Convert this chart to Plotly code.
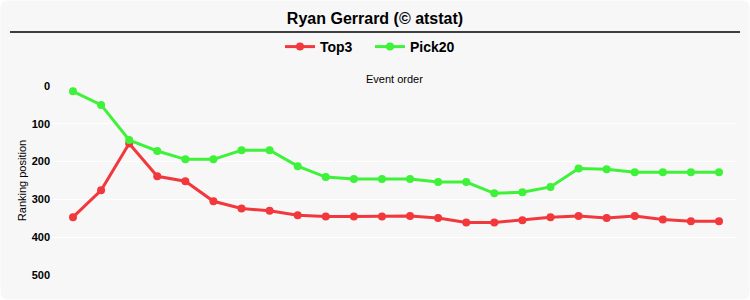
import plotly.graph_objects as go

events = list(range(1, 25))
top3 = [347, 276, 152, 239, 252, 305, 324, 330, 342, 345, 345, 345,
        344, 349, 361, 361, 355, 347, 344, 349, 344, 353, 358, 358]
pick20 = [14, 50, 143, 172, 194, 194, 170, 170, 212, 241, 246, 246,
          246, 254, 254, 284, 281, 267, 218, 220, 228, 228, 228, 228]
y_ticks = [0, 100, 200, 300, 400, 500]

RED = "#f2383c"
GREEN = "#3ef23a"
BG = "#f7f7f7"
FONT = "Liberation Sans, Arial, sans-serif"

W, H = 750, 300
L, R, T, B = 53, 14, 86, 25
PW, PH = W - L - R, H - T - B


def px_x(px):
    return px - L


def px_y(py):
    return (H - B) - py


def rounded_rect(x0, y0, x1, y1, r):
    a, b, c, d = px_x(x0), px_y(y0), px_x(x1), px_y(y1)
    return (f"M {a+r},{b} L {c-r},{b} Q {c},{b} {c},{b-r} "
            f"L {c},{d+r} Q {c},{d} {c-r},{d} L {a+r},{d} "
            f"Q {a},{d} {a},{d+r} L {a},{b-r} Q {a},{b} {a+r},{b} Z")


fig = go.Figure()
fig.add_trace(go.Scatter(x=events, y=top3, name="Top3", mode="lines+markers",
                         line=dict(color=RED, width=3),
                         marker=dict(color=RED, size=8)))
fig.add_trace(go.Scatter(x=events, y=pick20, name="Pick20", mode="lines+markers",
                         line=dict(color=GREEN, width=3),
                         marker=dict(color=GREEN, size=8)))

fig.update_layout(
    width=W, height=H,
    margin=dict(l=L, r=R, t=T, b=B, pad=0),
    paper_bgcolor="white",
    plot_bgcolor=BG,
    font=dict(family=FONT, color="black"),
    title=dict(text="<b>Ryan Gerrard (© atstat)</b>", x=0.5, xref="container",
               xanchor="center", y=1 - 18 / H, yanchor="middle",
               font=dict(size=16, family=FONT, color="black")),
    showlegend=True,
    legend=dict(orientation="h", x=(280 - L) / PW, xanchor="left",
                y=(H - B - 47) / PH, yanchor="middle",
                font=dict(size=14, family=FONT, color="black", weight="bold"),
                bgcolor="rgba(0,0,0,0)", itemwidth=30, entrywidth=45,
                entrywidthmode="pixels", tracegroupgap=0),
    hovermode=False,
    xaxis=dict(range=[1 - 20 / 28.09, 24 + 17 / 28.09], showgrid=False,
               zeroline=False, showticklabels=False, ticks="", showline=False),
    yaxis=dict(range=[500, 0], tickvals=y_ticks, showgrid=True,
               gridcolor="white", gridwidth=1, zeroline=False, ticks="",
               showline=False,
               tickfont=dict(size=11, family=FONT, color="black", weight="bold"),
               ticklabelstandoff=2,
               title=dict(text="Ranking position", standoff=2,
                          font=dict(size=11, family=FONT, color="black"))),
    shapes=[
        dict(type="path", xref="paper", yref="paper", xsizemode="pixel",
             ysizemode="pixel", xanchor=0, yanchor=0,
             path=rounded_rect(0.5, 0.5, 749.5, 299.5, 7),
             fillcolor=BG, line=dict(width=0), layer="below"),
        dict(type="line", xref="paper", yref="paper",
             x0=(10 - L) / PW, x1=(740 - L) / PW,
             y0=(H - B - 32) / PH, y1=(H - B - 32) / PH,
             line=dict(color="black", width=1.5)),
    ],
    annotations=[
        dict(text="Event order", xref="paper", yref="paper", x=0.5,
             y=(H - B - 79) / PH, xanchor="center", yanchor="middle",
             showarrow=False, font=dict(size=11, family=FONT, color="black")),
    ],
)

fig.write_html("out.html")
